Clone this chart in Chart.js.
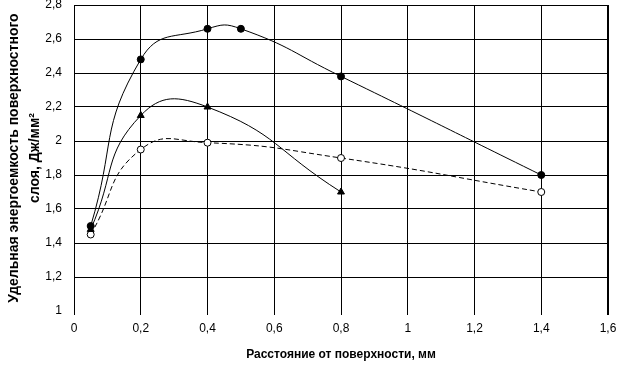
<!DOCTYPE html>
<html lang="ru">
<head>
    <meta charset="UTF-8">
    <script src="https://cdn.jsdelivr.net/npm/chart.js"></script>
    <title>Удельная энергоемкость</title>
    <style>
        body { margin: 0; background: #fff; }
        #box { width: 619px; height: 366px; }
    </style>
</head>
<body>
    <div id="box"><canvas id="myChartCanvas"></canvas></div>

<script>
    // данные
    const xFilled = [0.05, 0.2, 0.4, 0.5, 0.8, 1.4];
    const yFilled = [1.5, 2.48, 2.66, 2.66, 2.38, 1.8];

    const xTri = [0.05, 0.2, 0.4, 0.8];
    const yTri = [1.48, 2.15, 2.2, 1.7];

    const xOpen = [0.05, 0.2, 0.4, 0.8, 1.4];
    const yOpen = [1.45, 1.95, 1.99, 1.9, 1.7];

    const xTitle = 'Расстояние от поверхности, мм';
    const yTitle = ['Удельная энергоемкость поверхностного', 'слоя, Дж/мм²'];

    function pontos(xs, ys) {
        return xs.map((x, i) => ({ x: x, y: ys[i] }));
    }

    function virgula(v) {
        return String(Math.round(v * 10) / 10).replace('.', ',');
    }

    const fonte = { family: 'Liberation Sans, Arial, sans-serif', size: 12 };

    const config = {
        type: 'line',
        data: {
            datasets: [{
                data: pontos(xFilled, yFilled),
                borderColor: '#000',
                backgroundColor: '#000',
                borderWidth: 1,
                pointStyle: 'circle',
                pointRadius: 3.5,
                tension: 0.5
            }, {
                data: pontos(xTri, yTri),
                borderColor: '#000',
                backgroundColor: '#000',
                borderWidth: 1,
                pointStyle: 'triangle',
                pointRadius: 4,
                tension: 0.5
            }, {
                data: pontos(xOpen, yOpen),
                borderColor: '#000',
                backgroundColor: '#fff',
                borderWidth: 1,
                borderDash: [5, 3],
                pointStyle: 'circle',
                pointRadius: 3.5,
                tension: 0.5
            }]
        },
        options: {
            responsive: true,
            maintainAspectRatio: false,
            animation: false,
            layout: { padding: { top: 5, right: 11, left: 0, bottom: 0 } },
            plugins: { legend: { display: false }, tooltip: { enabled: false } },
            scales: {
                x: {
                    type: 'linear',
                    min: 0,
                    max: 1.6,
                    border: { display: false },
                    grid: {
                        color: '#000',
                        lineWidth: ctx => ctx.tick && ctx.tick.value > 1.55 ? 2 : 1,
                        tickLength: 4
                    },
                    ticks: {
                        stepSize: 0.2,
                        color: '#000',
                        font: fonte,
                        padding: 6,
                        maxRotation: 0,
                        callback: v => virgula(v)
                    },
                    title: {
                        display: true,
                        text: xTitle,
                        color: '#000',
                        font: { family: fonte.family, size: 12, weight: 'bold' },
                        padding: { top: 8, bottom: 4 }
                    },
                    afterFit: s => { s.height = 55; s.paddingLeft = 0; s.paddingRight = 0; }
                },
                y: {
                    min: 1,
                    max: 2.8,
                    border: { display: false },
                    grid: {
                        color: ctx => ctx.tick && ctx.tick.value < 1.05 ? 'rgba(0,0,0,0)' : '#000',
                        lineWidth: 1,
                        drawTicks: false
                    },
                    ticks: {
                        stepSize: 0.2,
                        color: '#000',
                        font: fonte,
                        padding: 12,
                        callback: v => virgula(v)
                    },
                    title: {
                        display: true,
                        text: yTitle,
                        color: '#000',
                        font: { family: fonte.family, size: 14, weight: 'bold', lineHeight: 1.55 },
                        padding: { top: 3, bottom: 2 }
                    },
                    afterFit: s => { s.width = 74; s.paddingTop = 0; s.paddingBottom = 0; }
                }
            }
        }
    };

    let myChart = new Chart(document.getElementById('myChartCanvas'), config);
</script>
</body>
</html>
